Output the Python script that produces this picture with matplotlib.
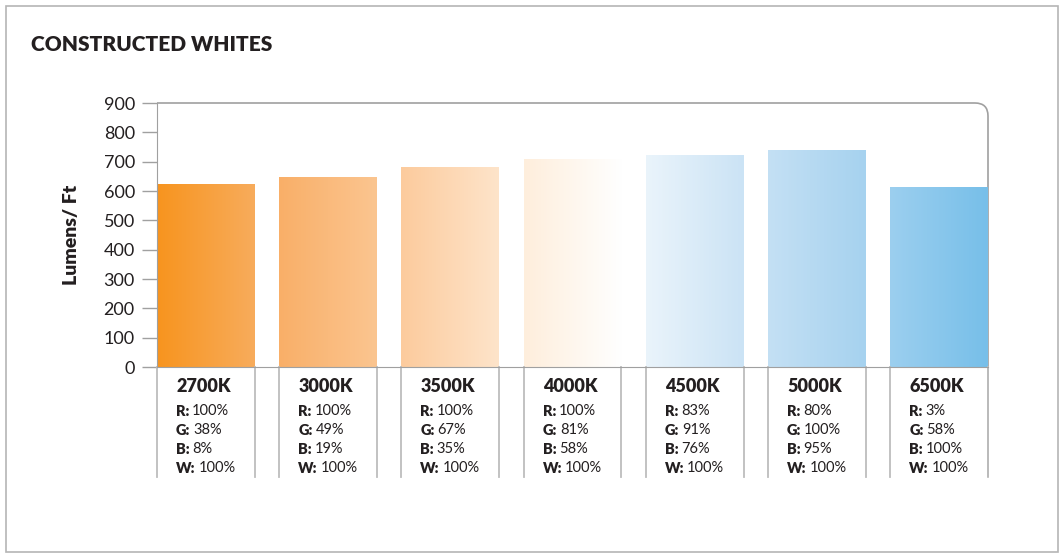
import matplotlib.pyplot as plt
import numpy as np
from matplotlib.colors import LinearSegmentedColormap
from matplotlib.patches import PathPatch, Rectangle
from matplotlib.path import Path

plt.rcParams['font.family'] = ['Lato', 'DejaVu Sans']

temps = ['2700K', '3000K', '3500K', '4000K', '4500K', '5000K', '6500K']
lumens = [622, 646, 680, 708, 722, 739, 612]
red = ['100%', '100%', '100%', '100%', '83%', '80%', '3%']
green = ['38%', '49%', '67%', '81%', '91%', '100%', '58%']
blue = ['8%', '19%', '35%', '58%', '76%', '95%', '100%']
white = ['100%', '100%', '100%', '100%', '100%', '100%', '100%']

# gradient ends (left, right) for each bar
grads = [('#F7941E', '#F8AC5C'), ('#F9AF68', '#FBC590'), ('#FCCB9D', '#FEE4CA'),
         ('#FEEEDC', '#FFFFFF'), ('#EAF4FB', '#CBE3F5'), ('#C4E0F4', '#A6D2EF'),
         ('#9CCFEF', '#77BFE9')]

W, H = 1060, 556
fig = plt.figure(figsize=(W / 100, H / 100), dpi=100)
ax_l, ax_r, ax_t, ax_b = 157, 988, 103, 367
ax = fig.add_axes([ax_l / W, (H - ax_b) / H, (ax_r - ax_l) / W, (ax_b - ax_t) / H])

edge = '#A0A0A0'
dark = '#231F20'
x = np.arange(len(temps))
bw = 0.8
bars = ax.bar(x, lumens, width=bw, color='none')
ramp = np.linspace(0, 1, 256).reshape(1, -1)
for b, (c0, c1) in zip(bars, grads):
    cm = LinearSegmentedColormap.from_list('g', [c0, c1])
    x0, w, h = b.get_x(), b.get_width(), b.get_height()
    ax.imshow(ramp, cmap=cm, extent=(x0, x0 + w, 0, h), aspect='auto', zorder=2)

ax.set_xlim(-0.4, 6.4)
ax.set_ylim(0, 900)
ax.set_yticks(range(0, 901, 100))
ax.set_xticks([])
ax.tick_params(axis='y', length=11, width=1, color=edge, pad=5, labelsize=13, labelcolor=dark)
for s in ['top', 'right']:
    ax.spines[s].set_visible(False)
for s in ['left', 'bottom']:
    ax.spines[s].set_color(edge)
ax.set_ylabel('Lumens/ Ft', fontsize=14, fontweight='heavy', color=dark, labelpad=17)

# top and rounded right frame
ppx = 1 / (ax_r - ax_l)
ppy = 1 / (ax_b - ax_t)
r = 13
bot = -(477 - ax_b) * ppy
verts = [(0, 1), (1 - r * ppx, 1), (1, 1), (1, 1 - r * ppy), (1, bot)]
codes = [Path.MOVETO, Path.LINETO, Path.CURVE3, Path.CURVE3, Path.LINETO]
ax.add_patch(PathPatch(Path(verts, codes), fill=False, edgecolor=edge, lw=1.2,
                       transform=ax.transAxes, clip_on=False))

# table below the bars
upx = 900 / (ax_b - ax_t)
for i in x:
    for xe in (i - bw / 2, i + bw / 2):
        ax.plot([xe, xe], [0, -(477 - ax_b) * upx], color='#BDBDBD', lw=1.3, clip_on=False)
    tx = i - bw / 2 + 19 / 122
    ax.text(tx, -(392 - ax_b) * upx, temps[i], fontsize=13, fontweight='heavy',
            color=dark, va='baseline', ha='left', clip_on=False)
    for k, (lab, vals) in enumerate(zip(['R:', 'G:', 'B:', 'W:'], [red, green, blue, white])):
        ty = -(416 + 19 * k - ax_b) * upx
        t = ax.text(tx, ty, lab, fontsize=10.5, fontweight='heavy', color=dark,
                    va='baseline', ha='left', clip_on=False)
        ax.annotate(vals[i], xy=(1, 0), xycoords=t, xytext=(2, 0), textcoords='offset points',
                    fontsize=10.5, color=dark, va='bottom', ha='left')

fig.text(31 / W, 1 - 45 / H, 'CONSTRUCTED WHITES', fontsize=15, fontweight='heavy',
         color=dark, va='center', ha='left')
fig.patches.append(Rectangle((6 / W, 4 / H), 1052 / W, 546 / H, fill=False,
                             edgecolor='#B5B5B5', lw=1.2, transform=fig.transFigure))

fig.savefig('out.png', dpi=100)
